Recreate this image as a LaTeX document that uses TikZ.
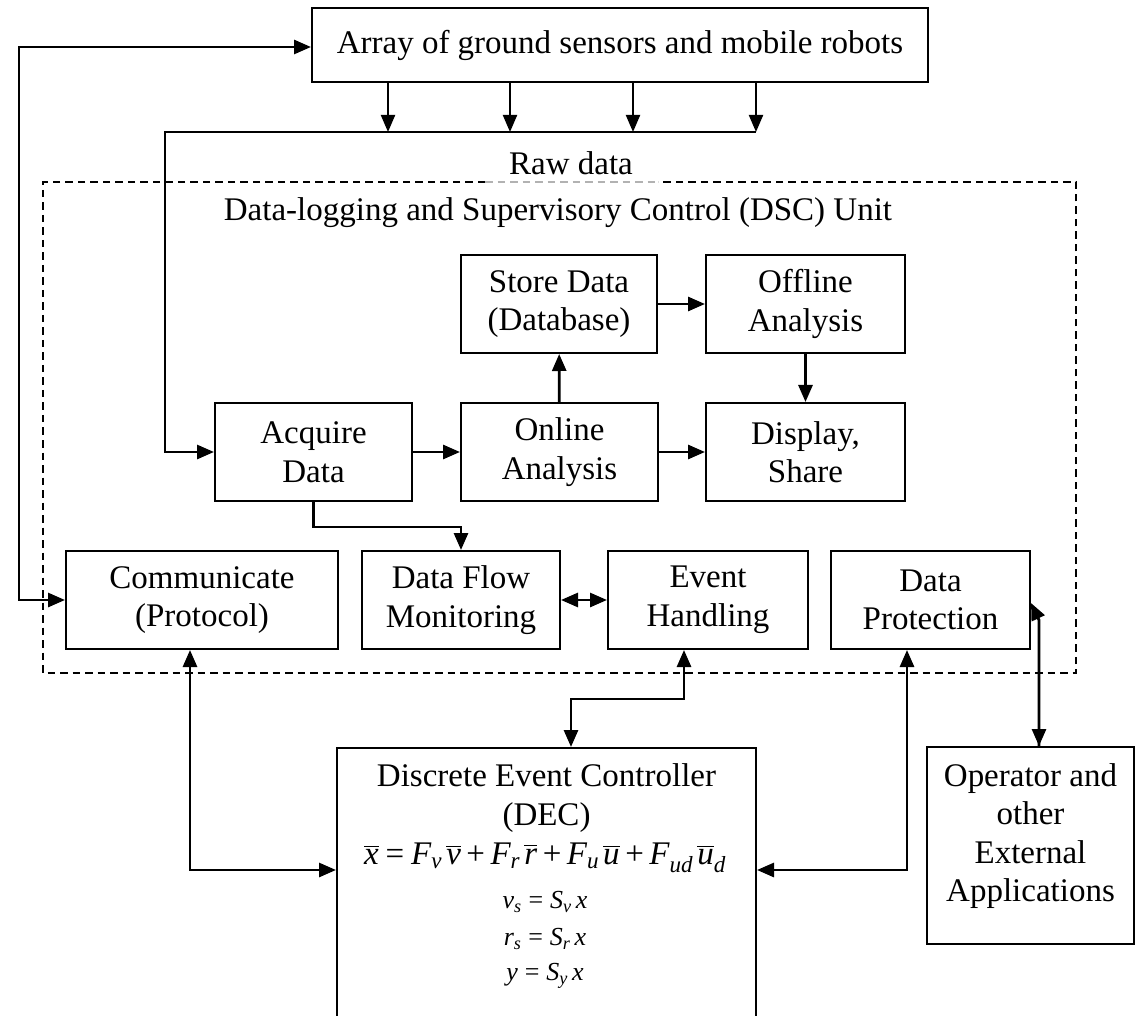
\documentclass[tikz,border=0pt]{standalone}
\usepackage{amsmath}
\usepackage{fontspec}
\setmainfont{Liberation Serif}
\usetikzlibrary{arrows.meta}
\newcommand{\mi}[1]{\textit{#1}}
\newcommand{\eqs}{\mathrel{\textrm{=}}}
\newcommand{\pls}{\mathbin{\textrm{+}}}
\newcommand{\bigfont}{\fontsize{33}{38.5}\selectfont}
\newcommand{\eqfont}{\fontsize{26}{30}\selectfont}
\tikzset{
  box/.style={draw, line width=2pt, inner sep=0pt, align=center, font=\bigfont},
  label/.style={inner sep=0pt, align=center, font=\bigfont},
  eqline/.style={inner sep=0pt, font=\eqfont},
  conn/.style={line width=2.8pt},
  feed/.style={line width=2.1pt},
  unit/.style={line width=1.6pt, dash pattern=on 7.5pt off 5pt},
  >={Triangle[length=17pt,width=14pt]}
}
\begin{document}
\begin{tikzpicture}[x=1pt,y=-1pt]
\useasboundingbox (0,0) rectangle (1136,1016);

% DSC unit outline
\draw[unit] (485,182) -- (43,182) -- (43,673) -- (1076,673) -- (1076,182) -- (658,182);
\draw[unit, draw=black!30] (485,182) -- (658,182);

% blocks
\node[box, minimum width=616pt, minimum height=74pt] (arr) at (620,45) {Array of ground sensors and mobile robots};
\node[box, minimum width=197pt, minimum height=98pt] (acq) at (313.5,452) {Acquire\\Data};
\node[box, minimum width=197pt, minimum height=98pt] (onl) at (559.5,452) {Online\\Analysis};
\node[box, minimum width=196pt, minimum height=98pt] (sto) at (559,304) {Store Data\\(Database)};
\node[box, minimum width=199pt, minimum height=98pt] (off) at (805.5,304) {Offline\\Analysis};
\node[box, minimum width=199pt, minimum height=98pt] (dis) at (805.5,452) {Display,\\Share};
\node[box, minimum width=272pt, minimum height=98pt] (com) at (202,600) {Communicate\\(Protocol)};
\node[box, minimum width=198pt, minimum height=98pt] (dfm) at (461,600) {Data Flow\\Monitoring};
\node[box, minimum width=200pt, minimum height=98pt] (evt) at (708,600) {Event\\Handling};
\node[box, minimum width=199pt, minimum height=98pt] (dpr) at (930.5,600) {Data\\Protection};
\node[box, minimum width=419pt, minimum height=282pt] (dec) at (546.5,889) {};
\node[box, minimum width=207pt, minimum height=197pt] (ope) at (1030.5,845.5) {};

% labels
\node[label] (raw) at (571,163) {Raw data};
\node[label] (dsc) at (558,213) {Data-logging and Supervisory Control (DSC) Unit};
\node[label] (dectitle) at (546.5,798) {Discrete Event Controller\\(DEC)};
\node[label] (eqa) at (545,858) {$\overline{\mi{x}} \eqs \mi{F}_{\mi{v}}\,\overline{\mi{v}} \pls \mi{F}_{\mi{r}}\,\overline{\mi{r}} \pls \mi{F}_{\mi{u}}\,\overline{\mi{u}} \pls \mi{F}_{\mi{ud}}\,\overline{\mi{u}}_{\mi{d}}$};
\node[eqline] (eqb) at (545,902) {$\mi{v}_{\mi{s}} \eqs \mi{S}_{\mi{v}}\,\mi{x}$};
\node[eqline] (eqc) at (545,939) {$\mi{r}_{\mi{s}} \eqs \mi{S}_{\mi{r}}\,\mi{x}$};
\node[eqline] (eqd) at (545,976) {$\mi{y} \eqs \mi{S}_{\mi{y}}\,\mi{x}$};
\node[label] (opetext) at (1030.5,836) {Operator and\\other\\External\\Applications};

% raw data bus
\coordinate (b1) at (388,132);
\coordinate (b2) at (510,132);
\coordinate (b3) at (633,132);
\coordinate (b4) at (756,132);
\coordinate (busM) at (584,132);
\coordinate (busL) at (165,132);
\foreach \b in {b1,b2,b3,b4}
  \draw[feed,->] (arr.south -| \b) -- (\b);
\draw[feed] (busM) -- (b4);
\draw[conn,->] (busM) -- (busL) |- (acq.west);

% processing chain
\draw[conn,->] (acq) -- (onl);
\draw[conn,->] (onl) -- (dis);
\draw[conn,->] (onl) -- (sto);
\draw[conn,->] (sto) -- (off);
\draw[conn,->] (off) -- (dis);
\draw[conn,->] (acq.south) -- ++(0,25) -| (dfm.north);
\draw[conn,<->] (dfm) -- (evt);

% communication loop to the field
\coordinate (fbk) at (19,47);
\draw[conn,<->] (arr.west |- fbk) -- (fbk) |- (com.west);

% links with the controller
\draw[conn,<->] ([xshift=-12pt]com.south) |- ([yshift=-123pt]dec.north west);
\draw[conn,<->] ([xshift=-24pt]evt.south) -- ++(0,49) -| ([xshift=24.5pt]dec.north);
\draw[conn,<->] ([xshift=-23.5pt]dpr.south) |- ([yshift=-123pt]dec.north east);

% link with the operator
\coordinate (opk) at (1039,620);
\draw[conn,->] ([xshift=8.5pt]ope.north) -- (opk) -- ([yshift=-3pt]dpr.east);
\draw[conn,->] (opk) -- ([xshift=8.5pt]ope.north);
\end{tikzpicture}
\end{document}
